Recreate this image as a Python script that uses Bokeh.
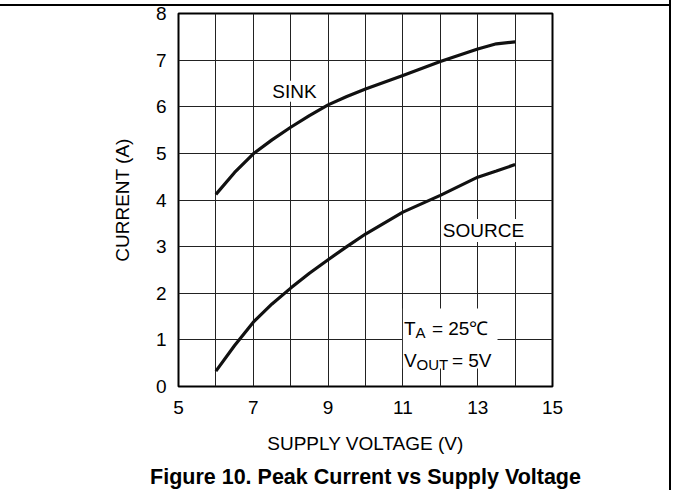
from bokeh.plotting import figure
from bokeh.models import Range1d, FixedTicker, Label, BoxAnnotation, Title
from bokeh.embed import file_html
from bokeh.resources import INLINE

# ---- data ----
voltage = [6, 6.5, 7, 7.5, 8, 8.5, 9, 9.5, 10, 11, 12, 13, 13.5, 14]
sink = [4.12, 4.59, 4.99, 5.29, 5.56, 5.81, 6.04, 6.22, 6.38, 6.67, 6.97, 7.24, 7.35, 7.39]
source = [0.33, 0.88, 1.38, 1.77, 2.11, 2.43, 2.72, 3.00, 3.27, 3.74, 4.10, 4.49, 4.62, 4.76]

x_ticks = [5, 7, 9, 11, 13, 15]
y_ticks = [0, 1, 2, 3, 4, 5, 6, 7, 8]
x_grid = list(range(5, 16))
y_grid = list(range(0, 9))

FONT = "Liberation Sans"

p = figure(
    frame_width=374, frame_height=373,
    min_border_left=178, min_border_right=117,
    min_border_top=13, min_border_bottom=102,
    x_range=Range1d(5, 15), y_range=Range1d(0, 8),
    toolbar_location=None, output_backend="svg",
)
# page frame: thin rule along the top and down the right edge
p.styles = {
    "border-right": "2px solid black",
    "background": "linear-gradient(#000, #000) 0 4px / 100% 2px no-repeat, #ffffff",
}

p.outline_line_color = "black"
p.outline_line_width = 2
p.outline_line_alpha = 1.0
p.background_fill_color = "white"
p.border_fill_color = None

# grid
p.xgrid.ticker = FixedTicker(ticks=x_grid)
p.ygrid.ticker = FixedTicker(ticks=y_grid)
for g in (p.xgrid, p.ygrid):
    g.grid_line_color = "#222222"
    g.grid_line_width = 1
    g.grid_line_alpha = 1.0

# axes
p.xaxis.ticker = FixedTicker(ticks=x_ticks)
p.yaxis.ticker = FixedTicker(ticks=y_ticks)
for ax in (p.xaxis, p.yaxis):
    ax.axis_line_color = None
    ax.major_tick_line_color = None
    ax.minor_tick_line_color = None
    ax.major_tick_in = 0
    ax.major_tick_out = 0
    ax.minor_tick_in = 0
    ax.minor_tick_out = 0
    ax.major_label_text_font = FONT
    ax.major_label_text_font_size = "19px"
    ax.major_label_text_color = "black"
    ax.axis_label_text_font = FONT
    ax.axis_label_text_font_size = "19px"
    ax.axis_label_text_font_style = "normal"
    ax.axis_label_text_color = "black"
p.xaxis.major_label_standoff = 14
p.yaxis.major_label_standoff = 12
p.xaxis.axis_label = "SUPPLY VOLTAGE (V)"
p.yaxis.axis_label = "CURRENT (A)"
p.xaxis.axis_label_standoff = 16
p.yaxis.axis_label_standoff = 20

# curves
p.line(voltage, sink, line_color="#111111", line_width=3.2, line_join="round", line_cap="butt")
p.line(voltage, source, line_color="#111111", line_width=3.2, line_join="round", line_cap="butt")

# annotations
p.add_layout(Label(x=7.51, y=6.33, text="SINK", text_font=FONT, text_font_size="19px",
                   text_color="black", text_baseline="alphabetic",
                   background_fill_color="white", background_fill_alpha=1.0))
p.add_layout(Label(x=12.04, y=3.348, text="SOURCE", text_font=FONT, text_font_size="19px",
                   text_color="black", text_baseline="alphabetic",
                   background_fill_color="white", background_fill_alpha=1.0, padding=1))

p.add_layout(BoxAnnotation(left=11.0, right=13.53, bottom=0.386, top=1.674,
                           fill_color="white", fill_alpha=1.0, line_color=None, level="annotation"))

row1 = 1.245
row2 = 0.558
sub1 = 1.159
sub2 = 0.472
def lab(y, txt, dx, size):
    p.add_layout(Label(x=11.0, y=y, x_offset=dx, text=txt, text_font=FONT,
                       text_font_size=size, text_color="black", text_baseline="alphabetic"))
lab(row1, "T", 1, "19px")
lab(sub1, "A", 12.6, "15px")
lab(row1, "= 25\u2103", 29.0, "19px")
lab(row2, "V", 1, "19px")
lab(sub2, "OUT", 13.7, "15px")
lab(row2, "= 5V", 49.0, "19px")

cap = Title(text="Figure 10. Peak Current vs Supply Voltage", align="center",
            text_font=FONT, text_font_size="21.5px", text_font_style="bold", text_color="black",
            standoff=12)
p.add_layout(cap, "below")

open("out.html", "w").write(file_html(p, INLINE))
